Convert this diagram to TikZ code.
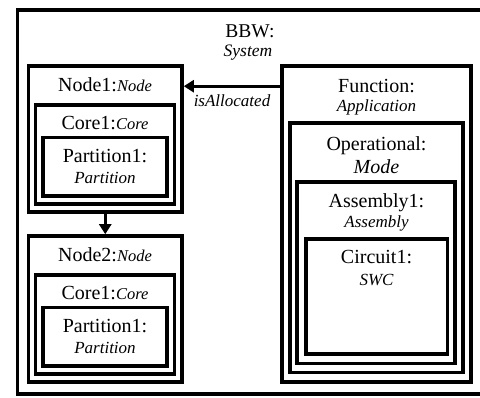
\documentclass[tikz,border=0pt]{standalone}
\usepackage{fontspec}
\setmainfont{Liberation Serif}
\usetikzlibrary{fit,arrows.meta}

\newcommand\mainsz{\fontsize{20}{24}\selectfont}
\newcommand\subsz{\fontsize{17}{20}\selectfont\itshape}
\newcommand\inlinesub{\fontsize{16.5}{20}\selectfont\itshape}

\tikzset{
  box/.style={draw, line width=3.6pt, inner sep=0pt, rectangle},
  ttl/.style={anchor=base, inner sep=0pt, font=\mainsz},
  sub/.style={anchor=base, inner sep=0pt, font=\subsz},
  arrow/.style={line width=3.2pt, -{Triangle[length=10pt,width=12pt]}}
}

\begin{document}
\begin{tikzpicture}[x=1pt,y=-1pt]
\useasboundingbox (0,0) rectangle (480,397);
\fill[white] (0,0) rectangle (480,397);

% system frame (runs off the right edge)
\draw[line width=3.8pt] (490,10) -- (17.5,10) -- (17.5,394) -- (490,394);
\node[ttl, font=\fontsize{19.5}{23}\selectfont] (bbw) at (250,37) {BBW:};
\node[sub, font=\fontsize{17.5}{20}\selectfont\itshape] (sys) at (248,56) {System};

% first node stack
\node[box, fit={(28.5,66) (182,212)}] (node1) {};
\node[box, fit={(35.5,105) (174.5,204)}] (core1a) {};
\node[box, fit={(43,137.5) (167,196)}] (part1a) {};
\node[ttl] (node1t) at (105,91) {Node1:{\inlinesub Node}};
\node[ttl] (core1at) at (105,129) {Core1:{\inlinesub Core}};
\node[ttl] (part1at) at (105,162) {Partition1:};
\node[sub] (part1as) at (105,183) {Partition};

% second node stack
\node[box, fit={(28.5,236) (182,382)}] (node2) {};
\node[box, fit={(35.5,275) (174.5,374)}] (core1b) {};
\node[box, fit={(43,307.5) (167,366)}] (part1b) {};
\node[ttl] (node2t) at (105,261) {Node2:{\inlinesub Node}};
\node[ttl] (core1bt) at (105,299) {Core1:{\inlinesub Core}};
\node[ttl] (part1bt) at (105,332) {Partition1:};
\node[sub] (part1bs) at (105,353) {Partition};

% application stack
\node[box, fit={(282,66) (471,382)}] (func) {};
\node[box, fit={(290,123) (463,372.5)}] (oper) {};
\node[box, fit={(297,182) (455,363.5)}] (asm) {};
\node[box, fit={(306,239) (447.5,354)}] (circ) {};
\node[ttl] (funct) at (376.5,92) {Function:};
\node[sub] (funcs) at (376.5,111) {Application};
\node[ttl] (opert) at (376.5,150) {Operational:};
\node[sub, font=\fontsize{20}{24}\selectfont\itshape] (opers) at (376.5,173) {Mode};
\node[ttl] (asmt) at (376.5,207) {Assembly1:};
\node[sub] (asms) at (376.5,227) {Assembly};
\node[ttl] (circt) at (376.5,263) {Circuit1:};
\node[sub] (circs) at (376.5,285) {SWC};

% connectors
\draw[arrow] ([yshift=-22pt]func.north west) -- ([yshift=-22pt]node1.north east)
  node[sub, pos=0.5, yshift=-20pt] (alloc) {isAllocated};
\draw[arrow] (node1.south) -- (node2.north);
\end{tikzpicture}
\end{document}
